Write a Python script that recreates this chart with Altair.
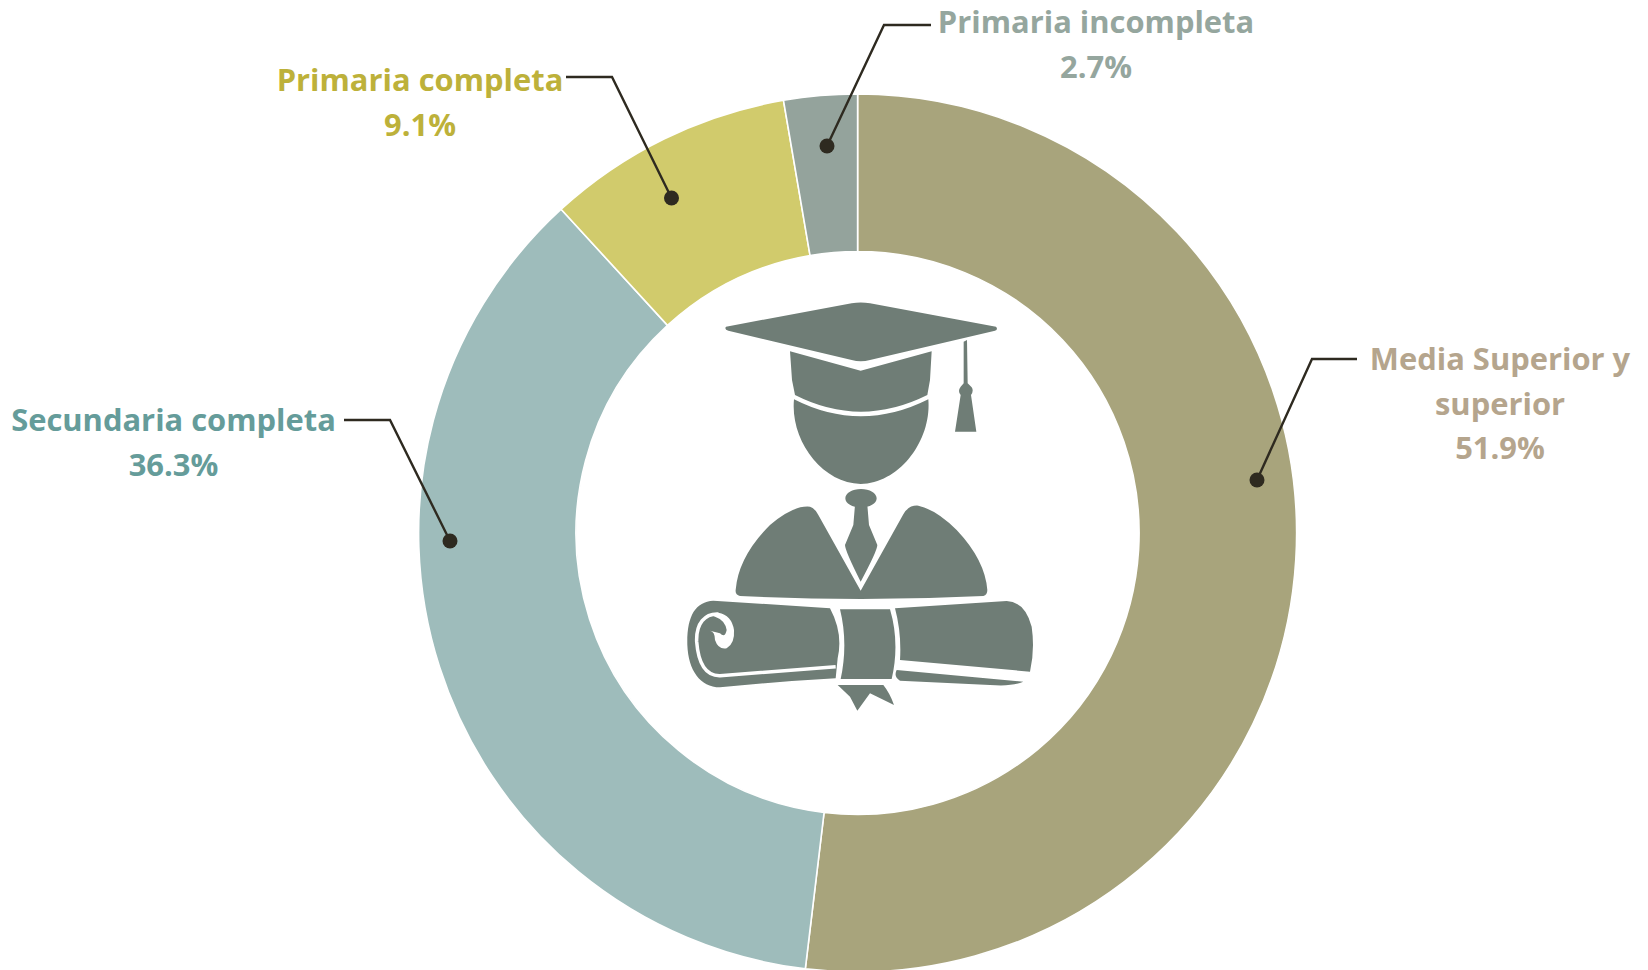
import altair as alt
import pandas as pd

# ---- data ----
categories = ["Media Superior y superior", "Secundaria completa", "Primaria completa", "Primaria incompleta"]
shares = [51.9, 36.3, 9.1, 2.7]
slice_colors = ["#A8A47C", "#9EBCBB", "#D1CB6C", "#94A39C"]
text_colors = ["#B5A58D", "#659C9A", "#BDB13A", "#95A69E"]

W, H = 1632, 962
OFF = 8  # page margin
cx, cy, R_OUT, R_IN = 857.6 - OFF, 533 - OFF, 439, 281.5

slices = pd.DataFrame({"cat": categories, "share": shares, "ord": range(4), "color": slice_colors})

# ---- annotation layout (page pixels) ----
label_lines = [
    ("Media Superior y", 1500, 360.5, 0), ("superior", 1500, 405.5, 0), ("51.9%", 1500, 450, 0),
    ("Secundaria completa", 173.5, 421.5, 1), ("36.3%", 173.5, 466.5, 1),
    ("Primaria completa", 420, 82, 2), ("9.1%", 420, 126.5, 2),
    ("Primaria incompleta", 1096, 24, 3), ("2.7%", 1096, 68.5, 3),
]
leaders = {
    0: [(1357, 359), (1312, 359), (1257, 480)],
    1: [(344, 420), (390, 420), (450, 541)],
    2: [(566, 77), (612, 77), (671.5, 198)],
    3: [(931, 25), (884, 25), (827, 146)],
}

labels = pd.DataFrame(
    [{"t": t, "x": x - OFF, "y": y - OFF, "c": text_colors[i], "k": n} for n, (t, x, y, i) in enumerate(label_lines)]
)
lead = pd.DataFrame(
    [{"g": g, "o": o, "x": p[0] - OFF, "y": p[1] - OFF} for g, pts in leaders.items() for o, p in enumerate(pts)]
)
dots = lead[lead.o == 2]

xs = alt.Scale(domain=[0, W], range=[0, W])
ys = alt.Scale(domain=[0, H], range=[0, H])
X = alt.X("x:Q", scale=xs, axis=None)
Y = alt.Y("y:Q", scale=ys, axis=None)

ring = (
    alt.Chart(slices)
    .mark_arc(outerRadius=R_OUT, innerRadius=R_IN, stroke="white", strokeWidth=1.6)
    .encode(
        theta=alt.Theta("share:Q", stack=True),
        order=alt.Order("ord:Q"),
        color=alt.Color("color:N", scale=None, legend=None),
        x=alt.value(cx),
        y=alt.value(cy),
    )
)

lines = (
    alt.Chart(lead)
    .mark_line(color="#2E2A20", strokeWidth=2.4, strokeJoin="miter")
    .encode(x=X, y=Y, detail="g:N", order="o:Q")
)
points = (
    alt.Chart(dots)
    .mark_circle(color="#2E2A20", opacity=1, size=225)
    .encode(x=X, y=Y)
)
texts = (
    alt.Chart(labels)
    .mark_text(font="Open Sans", fontWeight="bold", fontSize=30.9, align="center", baseline="middle")
    .encode(x=X, y=Y, text="t:N", color=alt.Color("c:N", scale=None, legend=None), detail="k:N")
)

# ---- graduate icon, drawn as a single symbol (units: 1/3 px, origin at page 670,280) ----
ICON_DARK = " ".join([
    # mortarboard
    "M168,140 L545,70 Q572,65 600,70 L978,140 Q985,148 975,152 L600,240 Q572,248 545,240 L175,152 Q162,148 168,140 Z",
    # cap band
    "M360,214 L572,272 L785,214 L780,300 L772,345 Q572,445 375,345 L366,300 Z",
    # head
    "M372,358 Q572,460 775,358 C785,480 690,610 572,612 C455,610 360,480 372,358 Z",
    # tassel
    "M881,185 L891,180 L893,310 L905,322 Q912,333 903,345 L919,455 L855,455 L872,345 Q862,333 872,320 L881,310 Z",
    # tie knot
    "M526,655 A47,28 0 1,1 620,655 A47,28 0 1,1 526,655 Z",
    # tie
    "M555,675 L592,675 L597,735 L622,795 Q622,812 572,905 Q525,812 525,795 L550,735 Z",
    # jacket
    "M197,930 Q205,830 300,735 Q370,675 420,680 Q435,685 445,705 L572,932 L700,703 Q715,675 745,677 "
    "Q800,690 860,750 Q945,840 952,930 Q952,945 940,948 Q572,966 210,948 Q195,945 197,930 Z",
    # left scroll
    "M130,962 L480,985 Q520,1060 503,1135 L497,1195 Q320,1205 150,1222 C90,1222 55,1170 52,1095 C50,1010 75,965 130,962 Z",
    # ribbon band
    "M510,988 L660,988 Q690,1090 665,1197 L512,1197 Q535,1090 510,988 Z",
    # right scroll
    "M675,985 L1010,963 Q1065,965 1085,1040 Q1095,1110 1080,1175 L690,1140 Q695,1060 675,985 Z",
    # right lower ribbon
    "M680,1170 L1060,1205 Q1030,1220 960,1215 L690,1202 Q670,1190 680,1170 Z",
    # ribbon tails
    "M503,1215 L640,1215 Q660,1240 672,1275 L600,1240 L562,1292 L540,1250 Z",
])
ICON_CURL = (
    "M497,1160 L150,1187 C105,1188 85,1150 80,1085 C78,1030 105,1000 145,1002"
)
ICON_BLOB = (
    "M120,1052 Q135,1055 135,1080 Q145,1110 170,1105 Q195,1090 192,1050 Q185,1005 145,998 "
    "Q120,1005 135,1010 Q165,1020 170,1050 Q165,1075 150,1060 Z"
)

icon_at = dict(x=alt.value(670 - OFF), y=alt.value(280 - OFF))
icon_size = 4 / 9
icon_df = pd.DataFrame({"a": ["icon"]})
icon = (
    alt.Chart(icon_df)
    .mark_point(shape=ICON_DARK, filled=True, color="#6F7D76", opacity=1, size=icon_size, strokeWidth=0)
    .encode(**icon_at)
)
curl = (
    alt.Chart(icon_df)
    .mark_point(shape=ICON_CURL, filled=False, color="white", opacity=1, size=icon_size, strokeWidth=3.5)
    .encode(**icon_at)
)
blob = (
    alt.Chart(icon_df)
    .mark_point(shape=ICON_BLOB, filled=True, color="white", opacity=1, size=icon_size, strokeWidth=0)
    .encode(**icon_at)
)

chart = (
    alt.layer(ring, icon, curl, blob, lines, points, texts)
    .properties(width=W, height=H, padding=0, background="white")
    .configure_view(stroke=None)
)
chart.save("out.html", embed_options={"renderer": "svg", "actions": False})
